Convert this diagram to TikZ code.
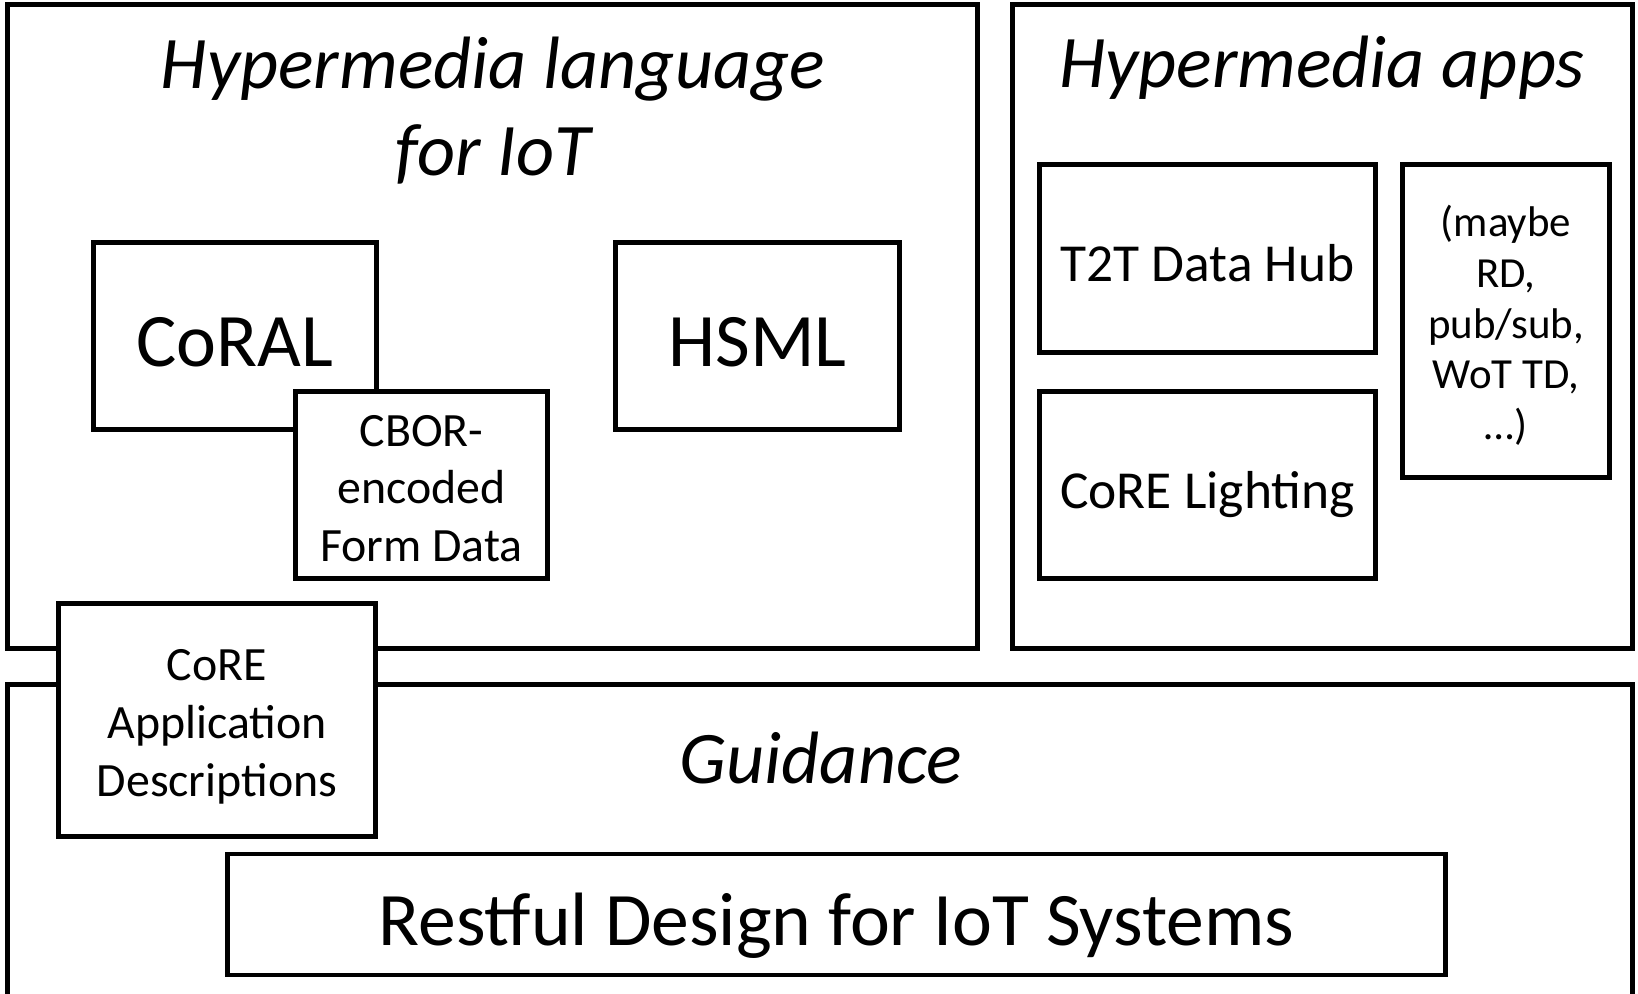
\documentclass[tikz,border=0pt]{standalone}
\usepackage{fontspec}
\setmainfont{Carlito}
\usetikzlibrary{positioning}

\begin{document}
\begin{tikzpicture}[
  x=0.01cm,y=-0.01cm,
  area/.style={draw,line width=1.4pt,inner sep=0pt},
  box/.style={draw,line width=1.4pt,fill=white,align=center,inner sep=0pt},
  big/.style={font=\fontsize{21.5}{26}\selectfont,text height=17.4pt,text depth=0pt},
  mid/.style={font=\fontsize{15.2}{18.5}\selectfont,text height=13.2pt,text depth=0pt},
  small/.style={font=\fontsize{13.6}{16.4}\selectfont},
  tiny/.style={font=\fontsize{12.2}{14.4}\selectfont},
  title/.style={font=\fontsize{21.1}{24.7}\selectfont\itshape,align=center},
  lower/.style={text height=#1,text depth=0pt}
]
  \useasboundingbox (0,0) rectangle (1638,994);

  % Outer areas
  \node[area,minimum width=9.69cm,minimum height=6.43cm]  (lang)  at (492.5,326.5) {};
  \node[area,minimum width=6.19cm,minimum height=6.43cm]  (apps)  at (1322.5,326.5) {};
  \node[area,minimum width=16.24cm,minimum height=3.25cm] (guide) at (820,847.5) {};

  \node[title] (langt)  at (493,111)  {Hypermedia language\\for IoT};
  \node[title] (appst)  at (1322,68)  {Hypermedia apps};
  \node[title] (guidet) at (821,758)  {Guidance};

  % Hypermedia language
  \node[box,big,minimum width=2.82cm,minimum height=1.86cm] (coral) at (235,336)   {CoRAL};
  \node[box,small,lower=43.6pt,minimum width=2.51cm,minimum height=1.86cm] (cbor) at (421.5,485) {CBOR-\\encoded\\Form Data};
  \node[box,big,minimum width=2.83cm,minimum height=1.86cm] (hsml)  at (757.5,336) {HSML};

  % Hypermedia apps
  \node[box,mid,minimum width=3.35cm,minimum height=1.87cm] (hub)   at (1207.5,258.5) {T2T Data Hub};
  \node[box,mid,minimum width=3.35cm,minimum height=1.86cm] (light) at (1207.5,485)   {CoRE Lighting};
  \node[box,tiny,lower=67.4pt,minimum width=2.06cm,minimum height=3.12cm] (maybe) at (1506,321) {(maybe\\RD,\\pub/sub,\\WoT TD,\\…)};

  % Guidance
  \node[box,small,lower=43.3pt,minimum width=3.17cm,minimum height=2.32cm] (appdesc) at (217,720) {CoRE\\Application\\Descriptions};
  \node[box,big,minimum width=12.17cm,minimum height=1.21cm] (rest) at (836.5,914.5) {Restful Design for IoT Systems};
\end{tikzpicture}
\end{document}
